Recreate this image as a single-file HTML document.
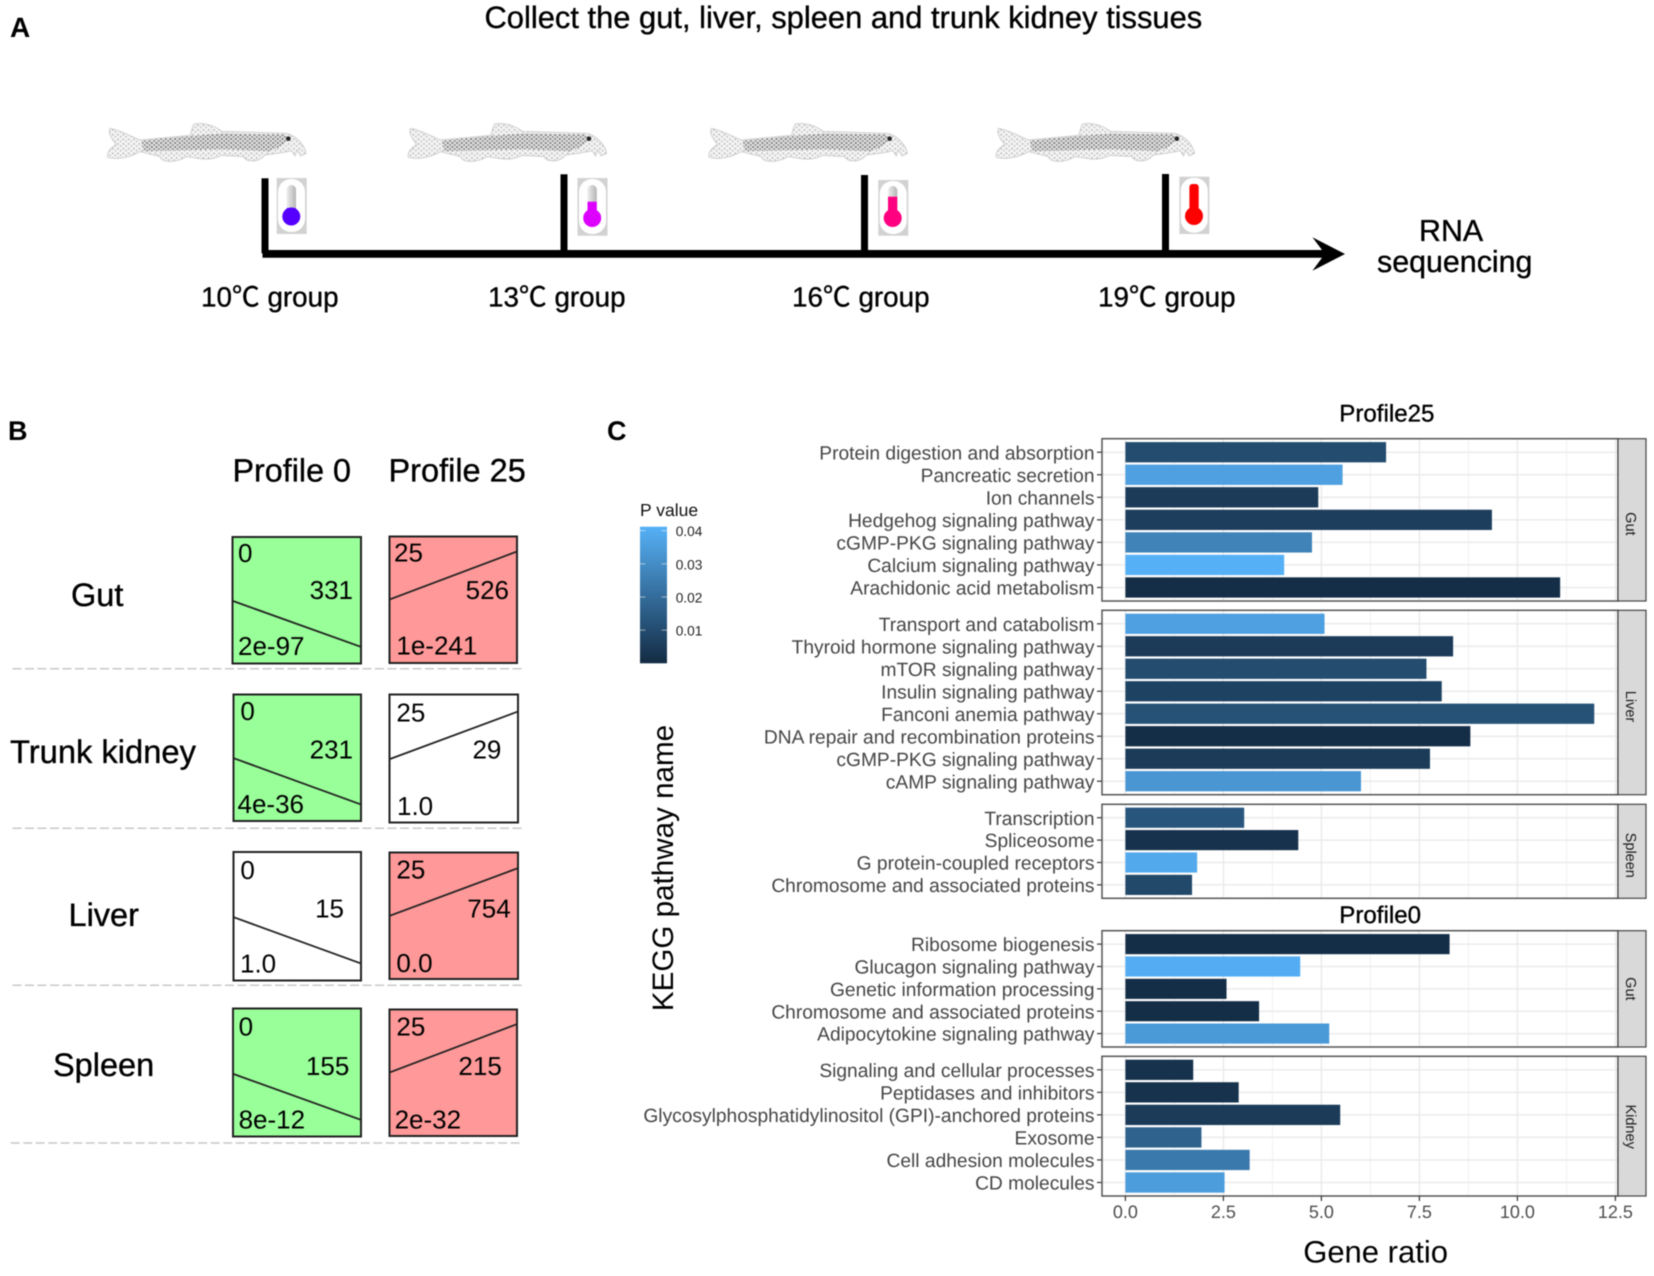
<!DOCTYPE html>
<html lang="en">
<head>
<meta charset="utf-8">
<title>Temperature RNA sequencing figure</title>
<style>
html,body{margin:0;padding:0;background:#fff;}
svg{display:block;font-family:"Liberation Sans","Noto Sans CJK SC",sans-serif;text-rendering:geometricPrecision;filter:blur(0.4px);}
.ink{stroke:#000;stroke-width:.35px;}
</style>
</head>
<body>
<svg id="figure" xmlns="http://www.w3.org/2000/svg" width="1654" height="1276" viewBox="0 0 1654 1276">
<defs>
  <pattern id="stipple" width="14" height="12" patternUnits="userSpaceOnUse">
    <rect width="14" height="12" fill="#e2e2e2"/>
    <circle cx="3.500" cy="3" r="3" fill="#6e6e6e"/>
    <circle cx="10.500" cy="9" r="3" fill="#858585"/>
  </pattern>
  <pattern id="stippleLight" width="16" height="14" patternUnits="userSpaceOnUse">
    <rect width="16" height="14" fill="#f4f4f4"/>
    <circle cx="4" cy="4" r="2.500" fill="#aaaaaa"/>
    <circle cx="12" cy="10" r="2.500" fill="#bbbbbb"/>
  </pattern>
  <linearGradient id="tube" x1="0" x2="1" y1="0" y2="0">
    <stop offset="0" stop-color="#eeeeee"/><stop offset="1" stop-color="#b4b4b4"/>
  </linearGradient>
  <filter id="soft" x="-5%" y="-10%" width="110%" height="120%"><feGaussianBlur stdDeviation="0.900"/></filter>
  <g id="fish" transform="translate(90 110) scale(.33333)" filter="url(#soft)">
    <path d="M150 90 C120 78 90 60 60 55 C52 70 68 90 78 103 C62 115 50 125 53 142 C80 150 120 142 150 125 L210 140 C215 158 255 160 290 140 L330 146 C350 150 375 146 395 136 L460 140 C470 158 505 158 525 135 C560 130 585 128 605 122 L615 138 L622 120 L632 138 L648 130 C645 110 625 80 590 70 L395 64 C375 48 345 36 312 42 C305 55 305 65 300 76 Z" fill="url(#stippleLight)" stroke="#d0d0d0" stroke-width="3"/>
    <path d="M155 92 L300 78 L400 70 L585 74 C600 90 590 102 540 124 L400 118 L160 124 Z" fill="url(#stipple)"/>
    <circle cx="595" cy="86" r="7" fill="#222"/>
  </g>
</defs>
<rect width="1654" height="1276" fill="#fff"/>

<!-- PANEL A -->
<g>
  <text x="10" y="37" font-size="28" font-weight="bold">A</text>
  <text class="ink" x="484.500" y="28" font-size="30.900">Collect the gut, liver, spleen and trunk kidney tissues</text>
  <use href="#fish"/>
  <use href="#fish" x="300.600"/>
  <use href="#fish" x="601.300"/>
  <use href="#fish" x="888.500"/>
  <path d="M262.500 250 H1322 L1312.400 237.300 L1345 254 L1312.400 270.700 L1322 257.700 H262.500 Z" fill="#000"/>
  <rect x="261.500" y="178.300" width="7" height="75" fill="#000"/>
  <rect x="560.500" y="174.300" width="7" height="79" fill="#000"/>
  <rect x="861" y="175" width="7" height="78" fill="#000"/>
  <rect x="1162" y="174" width="7" height="79" fill="#000"/>

  <g>
    <rect x="276.700" y="178" width="30" height="56" fill="#d2d2d2"/>
    <rect x="278" y="179" width="27" height="53" rx="13" fill="#fff"/>
    <rect x="286.700" y="185" width="9.300" height="28" rx="4.500" fill="url(#tube)"/>
    <rect x="286.700" y="208" width="9.300" height="8" fill="#5500ff"/>
    <circle cx="291.300" cy="216.500" r="9" fill="#5500ff"/>
  </g>
  <g>
    <rect x="577.500" y="178" width="30" height="57.700" fill="#d2d2d2"/>
    <rect x="579" y="179" width="27" height="55" rx="13" fill="#fff"/>
    <rect x="587.500" y="185" width="9.300" height="28" rx="4.500" fill="url(#tube)"/>
    <rect x="587.500" y="201.700" width="9.300" height="16" fill="#dd00ff"/>
    <circle cx="592.200" cy="218" r="9" fill="#dd00ff"/>
  </g>
  <g>
    <rect x="878.300" y="180" width="30" height="55.700" fill="#d2d2d2"/>
    <rect x="879.700" y="181" width="27" height="53" rx="13" fill="#fff"/>
    <rect x="888" y="186" width="9.300" height="28" rx="4.500" fill="url(#tube)"/>
    <rect x="888" y="196.700" width="9.300" height="21" fill="#ff0080"/>
    <circle cx="892.700" cy="218" r="9" fill="#ff0080"/>
  </g>
  <g>
    <rect x="1179.400" y="176.700" width="30" height="57.300" fill="#d2d2d2"/>
    <rect x="1180.800" y="177.700" width="27" height="55" rx="13" fill="#fff"/>
    <rect x="1189.400" y="184" width="9.300" height="32" rx="3" fill="#ff0000"/>
    <circle cx="1194" cy="216" r="9" fill="#ff0000"/>
  </g>

  <text class="ink" x="201" y="306.500" font-size="27.800">10℃ group</text>
  <text class="ink" x="488" y="306.500" font-size="27.800">13℃ group</text>
  <text class="ink" x="792" y="306.500" font-size="27.800">16℃ group</text>
  <text class="ink" x="1098" y="306.500" font-size="27.800">19℃ group</text>
  <text class="ink" x="1419" y="241" font-size="30.400">RNA</text>
  <text class="ink" x="1377" y="272" font-size="30.400">sequencing</text>
</g>

<!-- PANEL B -->
<g>
  <text x="8" y="440" font-size="27" font-weight="bold">B</text>
  <text class="ink" x="232.500" y="481.500" font-size="32.300">Profile 0</text>
  <text class="ink" x="388.500" y="481.500" font-size="32.500">Profile 25</text>
  <text class="ink" x="71" y="606" font-size="32.500">Gut</text>
  <text class="ink" x="10" y="763" font-size="32.700">Trunk kidney</text>
  <text class="ink" x="68.500" y="926" font-size="32.500">Liver</text>
  <text class="ink" x="53" y="1075.800" font-size="32.500">Spleen</text>

  <g font-size="26">
    <rect x="232.500" y="537" width="128.500" height="126.500" fill="#99ff99" stroke="#222" stroke-width="2"/>
    <line x1="233" y1="601" x2="360.500" y2="646.700" stroke="#222" stroke-width="1.800"/>
    <text x="238" y="562">0</text><text x="353" y="599" text-anchor="end">331</text><text x="238" y="655">2e-97</text>
  </g>
  <g font-size="26">
    <rect x="389.500" y="536.500" width="127.500" height="126.500" fill="#ff9999" stroke="#222" stroke-width="2"/>
    <line x1="390" y1="599.300" x2="516.500" y2="551.700" stroke="#222" stroke-width="1.800"/>
    <text x="394" y="561.700">25</text><text x="509" y="599" text-anchor="end">526</text><text x="396.400" y="654.300">1e-241</text>
  </g>
  <g font-size="26">
    <rect x="233.500" y="694.500" width="127.500" height="126.500" fill="#99ff99" stroke="#222" stroke-width="2"/>
    <line x1="234" y1="758.300" x2="360.500" y2="804.300" stroke="#222" stroke-width="1.800"/>
    <text x="240.400" y="720">0</text><text x="353" y="758.700" text-anchor="end">231</text><text x="237.500" y="813">4e-36</text>
  </g>
  <g font-size="26">
    <rect x="389.500" y="694.500" width="128.500" height="128" fill="#fff" stroke="#222" stroke-width="2"/>
    <line x1="390" y1="759" x2="517.500" y2="711.700" stroke="#222" stroke-width="1.800"/>
    <text x="396.400" y="721.700">25</text><text x="501.400" y="758.700" text-anchor="end">29</text><text x="397" y="815">1.0</text>
  </g>
  <g font-size="26">
    <rect x="233.500" y="852" width="127.500" height="128.500" fill="#fff" stroke="#222" stroke-width="2"/>
    <line x1="234" y1="917.300" x2="360.500" y2="963.300" stroke="#222" stroke-width="1.800"/>
    <text x="240.400" y="879">0</text><text x="344" y="917.700" text-anchor="end">15</text><text x="240" y="972.300">1.0</text>
  </g>
  <g font-size="26">
    <rect x="389.500" y="852.500" width="128.500" height="126.500" fill="#ff9999" stroke="#222" stroke-width="2"/>
    <line x1="390" y1="915.700" x2="517.500" y2="868.300" stroke="#222" stroke-width="1.800"/>
    <text x="396.400" y="878.600">25</text><text x="510.700" y="917.700" text-anchor="end">754</text><text x="396.400" y="972">0.0</text>
  </g>
  <g font-size="26">
    <rect x="233" y="1008.500" width="128" height="128" fill="#99ff99" stroke="#222" stroke-width="2"/>
    <line x1="233.500" y1="1074" x2="360.500" y2="1119.700" stroke="#222" stroke-width="1.800"/>
    <text x="238.600" y="1035.700">0</text><text x="349.300" y="1075" text-anchor="end">155</text><text x="238.600" y="1128.300">8e-12</text>
  </g>
  <g font-size="26">
    <rect x="389.500" y="1009.500" width="127.500" height="126.500" fill="#ff9999" stroke="#222" stroke-width="2"/>
    <line x1="390" y1="1072.300" x2="516.500" y2="1024.300" stroke="#222" stroke-width="1.800"/>
    <text x="396.400" y="1035.700">25</text><text x="501.800" y="1075" text-anchor="end">215</text><text x="394.600" y="1128.300">2e-32</text>
  </g>

  <line x1="12.500" x2="522" y1="668.700" y2="668.700" stroke="#c8c8c8" stroke-width="1.500" stroke-dasharray="9 3.500"/>
  <line x1="12.500" x2="522" y1="828.300" y2="828.300" stroke="#c8c8c8" stroke-width="1.500" stroke-dasharray="9 3.500"/>
  <line x1="12.500" x2="522" y1="985.300" y2="985.300" stroke="#c8c8c8" stroke-width="1.500" stroke-dasharray="9 3.500"/>
  <line x1="10.700" x2="520" y1="1143" y2="1143" stroke="#c8c8c8" stroke-width="1.500" stroke-dasharray="9 3.500"/>
</g>

<!-- PANEL C -->
<g id="panel-c">
  <text x="607" y="440" font-size="27" font-weight="bold">C</text>
  <text class="ink" x="1339.300" y="421.300" font-size="24.100">Profile25</text>
  <text class="ink" x="1339.300" y="922.800" font-size="24.100">Profile0</text>
  <text transform="translate(673 868) rotate(-90)" text-anchor="middle" font-size="29.600">KEGG pathway name</text>
  <text x="1375.600" y="1262.500" text-anchor="middle" font-size="31">Gene ratio</text>
  <text x="640" y="516" font-size="17.500" fill="#111">P value</text>
</g>
</svg>

<script>
// ---- chart data (top to bottom as displayed) ----
const xTicks = [0, 2.5, 5, 7.5, 10, 12.5];
const xTickLabels = ["0.0", "2.5", "5.0", "7.5", "10.0", "12.5"];
const legendTicks = [0.04, 0.03, 0.02, 0.01];
const legendTickLabels = ["0.04", "0.03", "0.02", "0.01"];

const gut25Pathways = ["Protein digestion and absorption", "Pancreatic secretion", "Ion channels", "Hedgehog signaling pathway", "cGMP-PKG signaling pathway", "Calcium signaling pathway", "Arachidonic acid metabolism"];
const gut25Ratios = [6.65, 5.54, 4.92, 9.35, 4.76, 4.05, 11.09];
const gut25PValues = [0.010, 0.036, 0.005, 0.006, 0.027, 0.041, 0.001];

const liver25Pathways = ["Transport and catabolism", "Thyroid hormone signaling pathway", "mTOR signaling pathway", "Insulin signaling pathway", "Fanconi anemia pathway", "DNA repair and recombination proteins", "cGMP-PKG signaling pathway", "cAMP signaling pathway"];
const liver25Ratios = [5.08, 8.36, 7.68, 8.07, 11.96, 8.80, 7.77, 6.01];
const liver25PValues = [0.036, 0.005, 0.010, 0.007, 0.012, 0.001, 0.005, 0.033];

const spleen25Pathways = ["Transcription", "Spliceosome", "G protein-coupled receptors", "Chromosome and associated proteins"];
const spleen25Ratios = [3.03, 4.41, 1.83, 1.70];
const spleen25PValues = [0.013, 0.002, 0.039, 0.009];

const gut0Pathways = ["Ribosome biogenesis", "Glucagon signaling pathway", "Genetic information processing", "Chromosome and associated proteins", "Adipocytokine signaling pathway"];
const gut0Ratios = [8.27, 4.46, 2.58, 3.41, 5.20];
const gut0PValues = [0.001, 0.040, 0.001, 0.001, 0.034];

const kidney0Pathways = ["Signaling and cellular processes", "Peptidases and inhibitors", "Glycosylphosphatidylinositol (GPI)-anchored proteins", "Exosome", "Cell adhesion molecules", "CD molecules"];
const kidney0Ratios = [1.73, 2.89, 5.48, 1.94, 3.17, 2.53];
const kidney0PValues = [0.002, 0.002, 0.005, 0.017, 0.024, 0.035];

// ---- axis functions ----
const SVG_NS = "http://www.w3.org/2000/svg";
const plotRoot = document.getElementById("panel-c");
const xAxis = function (v) { return 1125.4 + v * 39.2; };
const P_MAX = 0.0412;
const legendAxis = function (p) { return 663.3 - (p / P_MAX) * 136.6; };
const LOW = [0x13, 0x2B, 0x43];
const HIGH = [0x56, 0xB1, 0xF7];
function colourScale(p) {
  const t = Math.max(0, Math.min(1, p / P_MAX));
  const c = LOW.map(function (l, i) { return Math.round(l + (HIGH[i] - l) * t); });
  return "rgb(" + c.join(",") + ")";
}
function make(tag, attrs, parent) {
  const el = document.createElementNS(SVG_NS, tag);
  for (const k in attrs) { el.setAttribute(k, attrs[k]); }
  (parent || plotRoot).appendChild(el);
  return el;
}

const PANEL_LEFT = 1102, PANEL_RIGHT = 1618, STRIP_RIGHT = 1646;

function drawFacet(key, stripLabel, top, bottom, stripShift, pathways, ratios, pvalues, showXAxis) {
  const n = pathways.length;
  const step = (bottom - top) / (n - 1 + 1.2);
  const yAxis = function (i) { return top + (0.6 + i) * step; };

  const g = make("g", {});
  
  

  const bg = make("rect", { x: PANEL_LEFT, y: top, width: PANEL_RIGHT - PANEL_LEFT, height: bottom - top, fill: "#fff" }, g);
  
  

  xTicks.forEach(function (t, i) {
    const major = make("line", { x1: xAxis(t), x2: xAxis(t), y1: top, y2: bottom, stroke: "#ebebeb", "stroke-width": 1.5 }, g);
    
    
    if (i < xTicks.length - 1) {
      const mid = (t + xTicks[i + 1]) / 2;
      const minor = make("line", { x1: xAxis(mid), x2: xAxis(mid), y1: top, y2: bottom, stroke: "#f0f0f0", "stroke-width": 0.9 }, g);
      
      
    }
  });

  pathways.forEach(function (name, i) {
    const y = yAxis(i);
    const grid = make("line", { x1: PANEL_LEFT, x2: PANEL_RIGHT, y1: y, y2: y, stroke: "#ebebeb", "stroke-width": 1.5 }, g);
    
    

    const bar = make("rect", {
      x: xAxis(0), y: y - step * 0.45,
      width: xAxis(ratios[i]) - xAxis(0), height: step * 0.9,
      fill: colourScale(pvalues[i])
    }, g);
    
    

    const tick = make("line", { x1: PANEL_LEFT - 5, x2: PANEL_LEFT, y1: y, y2: y, stroke: "#333", "stroke-width": 1.2 }, g);
    
    

    const label = make("text", { x: 1094.5, y: y + 7.1, "text-anchor": "end", "font-size": 19.2, fill: "#454545" }, g);
    
    
    label.textContent = name;
  });

  const border = make("rect", { x: PANEL_LEFT, y: top, width: PANEL_RIGHT - PANEL_LEFT, height: bottom - top, fill: "none", stroke: "#555", "stroke-width": 1.5 }, g);
  
  

  const strip = make("rect", { x: PANEL_RIGHT, y: top, width: STRIP_RIGHT - PANEL_RIGHT, height: bottom - top, fill: "#d9d9d9", stroke: "#444", "stroke-width": 1.2 }, g);
  
  

  const stripText = make("text", { transform: "translate(1626 " + ((top + bottom) / 2 + stripShift) + ") rotate(90)", "text-anchor": "middle", "font-size": 14.5, fill: "#1a1a1a" }, g);
  
  
  stripText.textContent = stripLabel;

  if (showXAxis) {
    xTicks.forEach(function (t, i) {
      const tk = make("line", { x1: xAxis(t), x2: xAxis(t), y1: bottom, y2: bottom + 5, stroke: "#333", "stroke-width": 1.2 }, g);
      
      
      const lb = make("text", { x: xAxis(t), y: bottom + 22, "text-anchor": "middle", "font-size": 18, fill: "#4d4d4d" }, g);
      
      
      lb.textContent = xTickLabels[i];
    });
  }
}

drawFacet("profile25-gut", "Gut", 438.7, 601, 4, gut25Pathways, gut25Ratios, gut25PValues, false);
drawFacet("profile25-liver", "Liver", 610.3, 794.7, 4, liver25Pathways, liver25Ratios, liver25PValues, false);
drawFacet("profile25-spleen", "Spleen", 804.3, 898.3, 4, spleen25Pathways, spleen25Ratios, spleen25PValues, false);
drawFacet("profile0-gut", "Gut", 930.7, 1047, 0, gut0Pathways, gut0Ratios, gut0PValues, false);
drawFacet("profile0-kidney", "Kidney", 1056.3, 1196, 0.5, kidney0Pathways, kidney0Ratios, kidney0PValues, true);

// ---- colour legend ----
const defs = document.querySelector("defs");
const grad = make("linearGradient", { id: "pGradient", x1: 0, x2: 0, y1: 1, y2: 0 }, defs);
make("stop", { offset: 0, "stop-color": colourScale(0) }, grad);
make("stop", { offset: 1, "stop-color": colourScale(P_MAX) }, grad);

const legendBar = make("rect", { x: 640, y: legendAxis(P_MAX), width: 27, height: legendAxis(0) - legendAxis(P_MAX), fill: "url(#pGradient)" });



legendTicks.forEach(function (p, i) {
  const y = legendAxis(p);
  const left = make("line", { x1: 640, x2: 645.4, y1: y, y2: y, stroke: "#fff", "stroke-opacity": 0.55, "stroke-width": 1 });
  
  
  const right = make("line", { x1: 661.6, x2: 667, y1: y, y2: y, stroke: "#fff", "stroke-opacity": 0.55, "stroke-width": 1 });
  
  
  const lab = make("text", { x: 675.7, y: y + 5.5, "font-size": 13.7, fill: "#222" });
  
  
  lab.textContent = legendTickLabels[i];
});
</script>
</body>
</html>
